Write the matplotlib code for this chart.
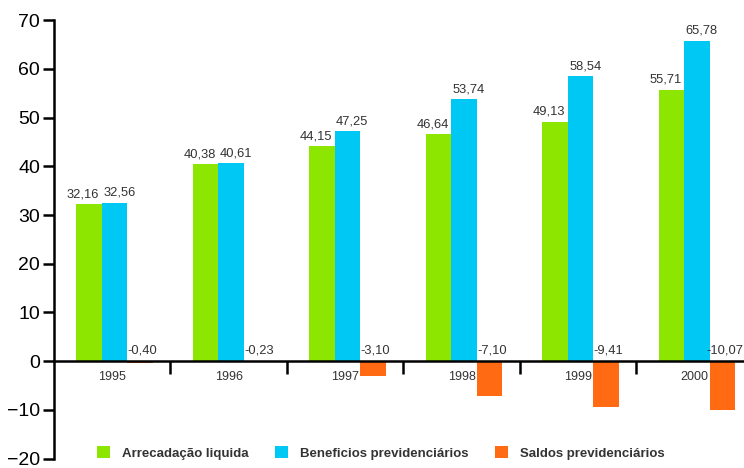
import numpy as np
import matplotlib.pyplot as plt
from matplotlib.ticker import FixedLocator, NullFormatter

plt.rcParams['font.family'] = ['Liberation Sans', 'DejaVu Sans']

# dados
anos = ['1995', '1996', '1997', '1998', '1999', '2000']
arrecadacao = [32.16, 40.38, 44.15, 46.64, 49.13, 55.71]
beneficios = [32.56, 40.61, 47.25, 53.74, 58.54, 65.78]
saldos = [-0.40, -0.23, -3.10, -7.10, -9.41, -10.07]

nomes = ['Arrecadação liquida', 'Beneficios previdenciários', 'Saldos previdenciários']
cores = ['#8CE600', '#00C8F5', '#FF6A12']

fig = plt.figure(figsize=(7.44, 4.68), dpi=100)
ax = fig.add_axes([0.0726, 0.02, 0.93, 0.937])

x = np.arange(len(anos))
w = 0.22
series = [arrecadacao, beneficios, saldos]
offsets = [-w + 0.02, 0.02, w + 0.02]
for vals, off, cor, nome in zip(series, offsets, cores, nomes):
    ax.bar(x + off, vals, width=w, color=cor, label=nome, zorder=2)

def fmt(v):
    return f'{v:.2f}'.replace('.', ',')

# rótulos dos valores
for i in range(len(anos)):
    ax.text(x[i] + offsets[0] - 0.05, arrecadacao[i] + 0.8, fmt(arrecadacao[i]),
            ha='center', va='bottom', fontsize=9.3, color='#333333')
    ax.text(x[i] + offsets[1] + 0.04, beneficios[i] + 0.8, fmt(beneficios[i]),
            ha='center', va='bottom', fontsize=9.3, color='#333333')
    ax.text(x[i] + offsets[2] + 0.02, 1.0, fmt(saldos[i]),
            ha='center', va='bottom', fontsize=9.3, color='#333333')

ax.set_xlim(-0.5, 5.44)
ax.set_ylim(-20, 70)

for s in ['top', 'right']:
    ax.spines[s].set_visible(False)
ax.spines['bottom'].set_position(('data', 0))
ax.spines['bottom'].set_linewidth(1.8)
ax.spines['left'].set_linewidth(1.8)

ax.set_yticks(np.arange(-20, 71, 10))
ax.tick_params(axis='y', labelsize=14, length=8, width=1.8, pad=2, direction='out')

ax.xaxis.set_major_locator(FixedLocator(x[:-1] + 0.5))
ax.xaxis.set_major_formatter(NullFormatter())
ax.xaxis.set_minor_locator(FixedLocator(x))
ax.set_xticklabels(anos, minor=True)
ax.tick_params(axis='x', which='major', length=9, width=1.8, direction='out')
ax.tick_params(axis='x', which='minor', length=0, labelsize=9, pad=7, labelcolor='#333333')

leg = ax.legend(loc='lower left', bbox_to_anchor=(0.045, -0.03), ncol=3, frameon=False,
                handlelength=1.0, handleheight=1.0, columnspacing=2.0,
                handletextpad=0.9, prop={'weight': 'bold', 'size': 9.5})
for t in leg.get_texts():
    t.set_color('#333333')

fig.savefig('out.png', dpi=100)
